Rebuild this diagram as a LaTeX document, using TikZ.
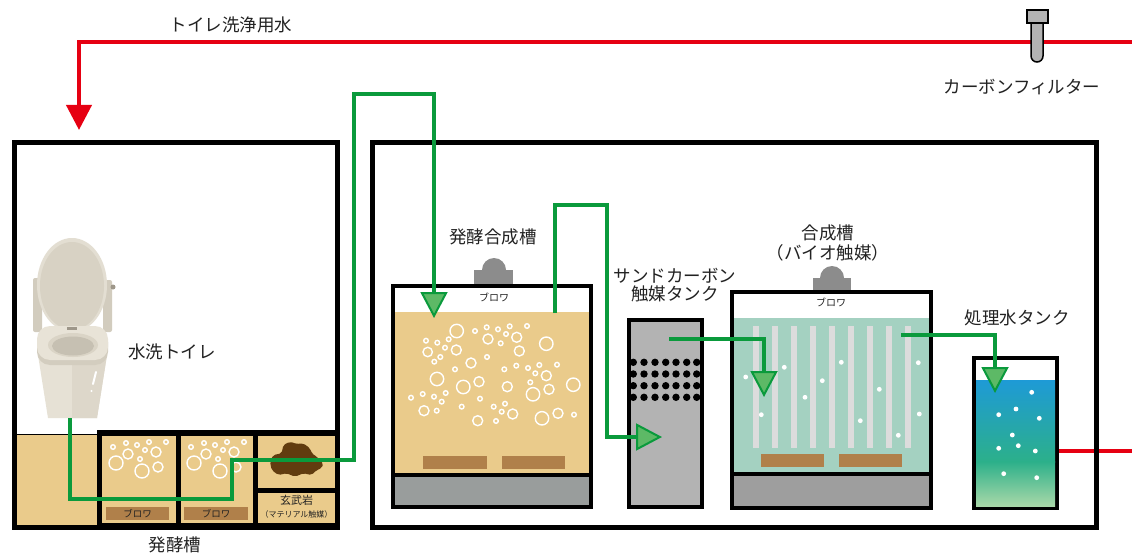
\documentclass[tikz,border=0pt]{standalone}
\usepackage{fontspec}
\newfontfamily\jp{Noto Sans CJK JP}
\usetikzlibrary{arrows.meta}

\definecolor{pipered}{HTML}{E60012}
\definecolor{pipegreen}{HTML}{0A9A3C}
\definecolor{tipgreen}{HTML}{5DB966}
\definecolor{tankfill}{HTML}{EACB8B}
\definecolor{blowerbar}{HTML}{B0804A}
\definecolor{basegray}{HTML}{999D9C}
\definecolor{basegrayb}{HTML}{9E9E9E}
\definecolor{sandgray}{HTML}{B3B3B3}
\definecolor{biogreen}{HTML}{A4D1C1}
\definecolor{stripe}{HTML}{DCDCDC}
\definecolor{rock}{HTML}{613C0F}
\definecolor{domegray}{HTML}{8C8C8C}
\definecolor{ink}{HTML}{222222}
\definecolor{waterblue}{HTML}{1E9AD6}
\definecolor{waterteal}{HTML}{2CB08A}
\definecolor{waterlight}{HTML}{A8D8A8}
\definecolor{toiletrim}{HTML}{E3DED2}
\definecolor{toiletlid}{HTML}{D8D2C4}
\definecolor{toiletdark}{HTML}{D2CCBE}
\definecolor{toiletseat}{HTML}{E8E3D7}
\definecolor{toiletshade}{HTML}{D3CDBF}
\definecolor{toiletring}{HTML}{DAD4C6}
\definecolor{toiletinner}{HTML}{C6C0B2}
\definecolor{toiletbody}{HTML}{E6E1D5}
\definecolor{toiletside}{HTML}{DDD7CA}
\definecolor{boltgray}{HTML}{9E978A}

\begin{document}
\begin{tikzpicture}[x=1pt,y=-1pt,
  redpipe/.style={draw=pipered,line width=4pt},
  greenpipe/.style={draw=pipegreen,line width=4pt},
  gtip/.style={-{Triangle[length=26pt,width=27pt,fill=tipgreen,line width=2pt]}},
  lbl/.style={font=\jp\fontsize{17.5}{20}\selectfont,text=ink,inner sep=0pt,align=center},
  smalllbl/.style={font=\jp\fontsize{10}{12}\selectfont,text=ink,inner sep=0pt},
  bubble/.style={draw=white,line width=1.4pt},
  wdot/.style={fill=white},
]
\useasboundingbox (0,0) rectangle (1132,556);
\fill[white] (0,0) rectangle (1132,556);

% ---------------- toilet room and fermentation cells ----------------
\fill[black] (12,140) rectangle (340,530);
\fill[white] (17,145) rectangle (335,430);
\fill[white] (17,145) rectangle (97,434);
\fill[tankfill] (17,435) rectangle (97,525);
\fill[tankfill] (102,436) rectangle (176,523);
\fill[tankfill] (181,436) rectangle (253,523);
\fill[tankfill] (258,436) rectangle (335,488);
\fill[tankfill] (258,493) rectangle (335,523);

% aeration bubbles in the two blower cells
\foreach \dx in {0,78}{
  \begin{scope}[xshift=\dx]
  \foreach \x/\y/\r in {113/447/2.3,126/443/2.3,137/445/2.3,149/442/2.3,166/442/2.3,145/450/2.3,140/459/2.3,
                        128/454/5,156/452/5,158/467/5,116/463/7,142/471/7}
    \draw[bubble] (\x,\y) circle[radius=\r pt];
  \end{scope}
}
\fill[blowerbar] (106,507) rectangle (169,520);
\fill[blowerbar] (184,507) rectangle (248,520);
\node[smalllbl,font=\jp\fontsize{9.5}{11}\selectfont] (bl1) at (137.5,513.5) {ブロワ};
\node[smalllbl,font=\jp\fontsize{9.5}{11}\selectfont] (bl2) at (216,513.5) {ブロワ};

% basalt
\fill[rock,rounded corners=2pt] (273.3,455) -- (281.7,453.3) -- (283.3,445) -- (290,441.7) -- (296.7,444)
  -- (303.3,443.3) -- (310,448.3) -- (311.7,453.3) -- (316.7,456.7) -- (323.3,463.3) -- (321.7,468.3)
  -- (316.7,470) -- (311.7,475) -- (303.3,473.3) -- (295,476.7) -- (286.7,473.3) -- (278.3,475)
  -- (271.7,470) -- (270,461.7) -- cycle;
\node[smalllbl,font=\jp\fontsize{11}{13}\selectfont] (basalt) at (296.5,500) {玄武岩};
\node[smalllbl,font=\jp\fontsize{8}{10}\selectfont] (basaltsub) at (296.5,514) {（マテリアル触媒）};

% toilet
\fill[toiletdark,rounded corners=2pt] (33,278) rectangle (42,332);
\fill[toiletdark,rounded corners=2pt] (103,280) rectangle (112,332);
\fill[boltgray] (113,287) circle[radius=2.5pt];
\fill[toiletrim] (72,285) ellipse[x radius=35pt,y radius=47pt];
\fill[toiletlid] (72,286) ellipse[x radius=32pt,y radius=44pt];
\fill[toiletbody] (38,355) -- (48,418) -- (97,418) -- (107,355) -- cycle;
\fill[toiletside] (72,362) -- (72,418) -- (97,418) -- (107,355) -- cycle;
\fill[toiletshade,rounded corners=13pt] (37,329) rectangle (108,365);
\fill[toiletseat,rounded corners=13pt] (37,326) rectangle (108,360);
\fill[toiletring] (73,345) ellipse[x radius=25pt,y radius=12pt];
\fill[toiletinner] (73,346) ellipse[x radius=21pt,y radius=9.5pt];
\fill[boltgray] (67,327) rectangle (77,329.5);
\draw[white,line width=2pt,line cap=round] (96,372) -- (93,384);
\fill[white] (91.5,391) circle[radius=1.2pt];

\node[lbl] (toiletlbl) at (172,352) {水洗トイレ};
\node[lbl] (fermlbl) at (175,545) {発酵槽};

% ---------------- treated water outlet (behind the frame) ----------------
\coordinate (outA) at (1059,451);
\coordinate (outB) at (1132,451);
\draw[redpipe] (outA) -- (outB);

% ---------------- treatment room frame ----------------
\draw[line width=5pt] (372.5,142.5) rectangle (1096,527.5);

% fermentation synthesis tank
\fill[black] (391,284) rectangle (593,509);
\fill[white] (395,288) rectangle (589,312);
\fill[tankfill] (395,312) rectangle (589,473);
\fill[basegray] (395,477) rectangle (589,505);
\fill[blowerbar] (423,456) rectangle (487,469);
\fill[blowerbar] (502,456) rectangle (565,469);
\foreach \x/\y/\r in {
  456.7/331/6.7, 426/340.7/2.3, 437.3/342.7/2.3, 448.7/339.3/2.3, 427.7/352/4.7, 456.3/350/5,
  445/347.7/2.3, 434.3/361.7/2.3, 440.3/357/2.3, 471/363/5, 455/369.3/2.3, 437/379/6.7,
  463.3/387/6.7, 479/381.7/5, 475/331/2.3, 486.7/327.3/2.3, 488/339/5, 498/329.3/2.3,
  506/334/2.3, 509.7/326.3/2.3, 516.7/337.3/5, 500.7/343.3/2.3, 527/326/2.3, 519.3/351/5,
  546.3/343.7/6.7, 487/357/2.3, 504.3/369.3/2.3, 516.3/365.7/2.3, 528/368/2.3, 539.3/365/2.3,
  535.3/373.3/2.3, 557/364.7/2.3, 546.3/375.7/5, 507.3/386.7/5, 530.3/382.3/2.3, 533/394.3/6.7,
  549/389.3/5, 573.3/384.7/6.7, 411/397.7/2.3, 422.7/394/2.3, 434/396.7/2.3, 445.7/393/2.3,
  441.7/401.7/2.3, 424/410.7/5, 436.7/410.7/2.3, 461.7/406.7/2.3, 480/398.7/2.3, 477.7/420.7/5,
  493.7/406.7/2.3, 505/403.7/2.3, 501.7/411.7/2.3, 512.7/414/5, 496/421/2.3, 542/418.3/6.7,
  558/413.3/5, 574/414.7/2.3}
  \draw[bubble] (\x,\y) circle[radius=\r pt];
\fill[domegray] (494,270) circle[radius=12pt];
\fill[domegray] (474,270) rectangle (513,284);
\node[smalllbl] (blf) at (494,297) {ブロワ};
\node[lbl] (fslbl) at (493,237) {発酵合成槽};

% sand carbon catalyst tank
\fill[black] (627,318) rectangle (704,509);
\fill[sandgray] (631,322) rectangle (700,505);
\begin{scope}
  \clip (631,322) rectangle (700,505);
  \foreach \y in {362.3,374,385.7,397.3}
    \foreach \x in {633.3,644,655,665.7,676,686.7,696.7}
      \fill[black] (\x,\y) circle[radius=3.7pt];
\end{scope}
\node[lbl,font=\jp\fontsize{17.5}{18.5}\selectfont] (sandlbl) at (675,285) {サンドカーボン\\触媒タンク};

% synthesis tank (bio catalyst)
\fill[black] (730,290) rectangle (933,510);
\fill[white] (734,294) rectangle (929,318);
\fill[biogreen] (734,318) rectangle (929,472);
\fill[basegrayb] (734,476) rectangle (929,506);
\foreach \x in {753.3,771.7,790.7,810,829,848.3,866.7,886,905}
  \fill[stripe] (\x,326) rectangle ++(6,122);
\foreach \x/\y in {745.7/377,784.3/367.3,761.3/414.7,805/397.3,822.3/380.7,841.3/362.3,
                   860.3/420.7,879.3/389.3,898.3/435.3,918.3/362.7,919.3/414}
  \fill[wdot] (\x,\y) circle[radius=2.4pt];
\fill[blowerbar] (761,454) rectangle (824,467);
\fill[blowerbar] (839,454) rectangle (902,467);
\fill[domegray] (832,278) circle[radius=12pt];
\fill[domegray] (813,278) rectangle (851,290);
\node[smalllbl] (bls) at (831,302) {ブロワ};
\node[lbl,font=\jp\fontsize{17.5}{20}\selectfont] (synlbl) at (828,243) {合成槽\\（バイオ触媒）};

% treated water tank
\fill[black] (972,356) rectangle (1059,510);
\fill[white] (976,360) rectangle (1055,506);
\shade[top color=waterblue,bottom color=waterteal] (976,380) rectangle (1055,462);
\shade[top color=waterteal,bottom color=waterlight] (976,461.5) rectangle (1055,506);
\foreach \x/\y in {1031.7/392.3,1016/409,998.7/414.7,1039.3/418.3,1012.3/435,998.7/448.3,
                   1018.3/445.7,1035.3/451,1003.7/473.7,1036.7/477.7}
  \fill[wdot] (\x,\y) circle[radius=2.4pt];
\node[lbl] (treatlbl) at (1017,318) {処理水タンク};

% ---------------- flushing water supply ----------------
\coordinate (redin) at (1132,41.7);
\coordinate (redbend) at (79,41.7);
\coordinate (flush) at (79,130);
\draw[redpipe,-{Triangle[length=25pt,width=25pt]}] (redin) -- (redbend) -- (flush);
\node[lbl] (flushlbl) at (231,25) {トイレ洗浄用水};

% carbon filter on the supply line
\fill[sandgray,draw=black,line width=1.5pt,rounded corners=6pt] (1031,20) -- (1031,62) -- (1043,62) -- (1043,20);
\draw[black,line width=1.5pt,fill=sandgray] (1027,10) rectangle (1048,23);
\node[lbl] (filterlbl) at (1022,87) {カーボンフィルター};

% ---------------- process water piping ----------------
\coordinate (p1a) at (70,418);
\coordinate (p1b) at (70,499);
\coordinate (p1c) at (232,499);
\coordinate (p1d) at (232,460);
\coordinate (p1e) at (353.5,460);
\coordinate (p1f) at (353.5,94.5);
\coordinate (p1g) at (434,94.5);
\coordinate (p1h) at (434,318);
\draw[greenpipe,gtip] (p1a) -- (p1b) -- (p1c) -- (p1d) -- (p1e) -- (p1f) -- (p1g) -- (p1h);

\coordinate (p2a) at (555,313);
\coordinate (p2b) at (555,205);
\coordinate (p2c) at (606.5,205);
\coordinate (p2d) at (606.5,437);
\coordinate (p2e) at (662,437);
\draw[greenpipe,gtip] (p2a) -- (p2b) -- (p2c) -- (p2d) -- (p2e);

\coordinate (p3a) at (669,339);
\coordinate (p3b) at (764,339);
\coordinate (p3c) at (764,397);
\draw[greenpipe,gtip] (p3a) -- (p3b) -- (p3c);

\coordinate (p4a) at (901,335);
\coordinate (p4b) at (995,335);
\coordinate (p4c) at (995,393);
\draw[greenpipe,gtip] (p4a) -- (p4b) -- (p4c);
\end{tikzpicture}
\end{document}
